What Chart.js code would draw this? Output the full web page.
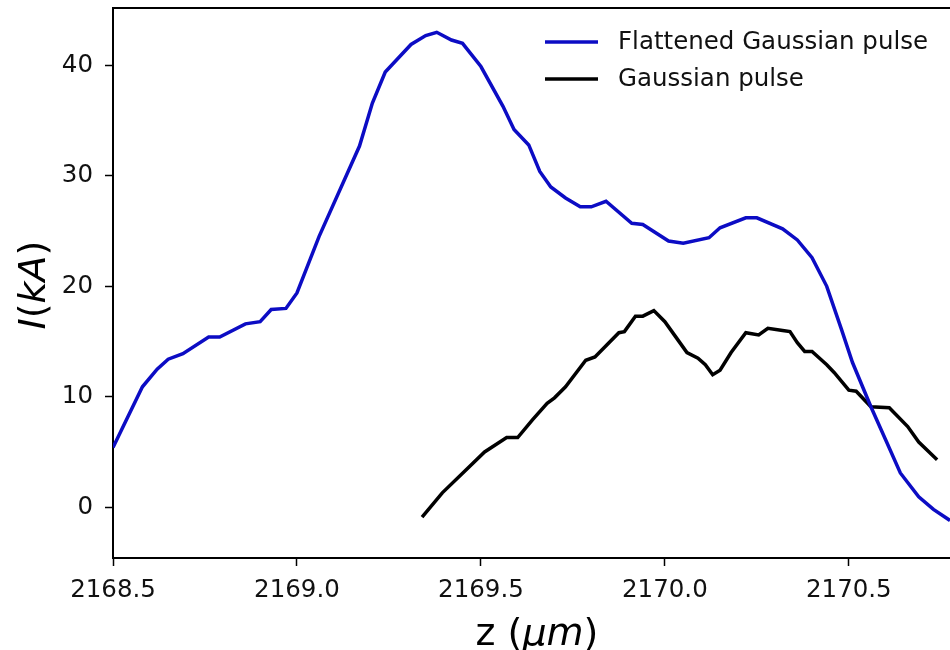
<!DOCTYPE html>
<html>
<head>
<meta charset="utf-8">
<script src="https://cdn.jsdelivr.net/npm/chart.js@4"></script>
<style>
  html, body { margin: 0; padding: 0; background: #fff; overflow: hidden; }
  #wrap { width: 950px; height: 650px; }
</style>
</head>
<body>
<div id="wrap"><canvas id="pulseChart"></canvas></div>
<script>
// positions along the beam, z in um
const blueZ = [2168.50, 2168.58, 2168.62, 2168.65, 2168.69, 2168.76, 2168.79, 2168.86, 2168.90, 2168.93,
  2168.97, 2169.00, 2169.06, 2169.17, 2169.205, 2169.24, 2169.31, 2169.35, 2169.38, 2169.42,
  2169.45, 2169.50, 2169.56, 2169.59, 2169.63, 2169.66, 2169.69, 2169.73, 2169.77, 2169.80,
  2169.84, 2169.91, 2169.94, 2170.01, 2170.05, 2170.12, 2170.15, 2170.22, 2170.25, 2170.32,
  2170.36, 2170.40, 2170.44, 2170.48, 2170.51, 2170.56, 2170.60, 2170.64, 2170.69, 2170.73, 2170.775];
const blueI = [5.4, 10.9, 12.5, 13.4, 13.9, 15.4, 15.4, 16.6, 16.8, 17.9,
  18.0, 19.4, 24.5, 32.7, 36.6, 39.4, 41.9, 42.7, 43.0, 42.3,
  42.0, 39.9, 36.3, 34.2, 32.8, 30.4, 29.0, 28.0, 27.2, 27.2,
  27.7, 25.7, 25.6, 24.1, 23.9, 24.4, 25.3, 26.2, 26.2, 25.2,
  24.2, 22.6, 20.0, 16.1, 13.1, 9.1, 6.1, 3.1, 0.95, -0.2, -1.2];

const blackZ = [2169.34, 2169.395, 2169.46, 2169.51, 2169.57, 2169.60, 2169.64, 2169.68, 2169.70, 2169.73,
  2169.785, 2169.81, 2169.875, 2169.89, 2169.92, 2169.94, 2169.97, 2170.00, 2170.03, 2170.06,
  2170.09, 2170.11, 2170.13, 2170.15, 2170.18, 2170.22, 2170.255, 2170.28, 2170.32, 2170.34,
  2170.36, 2170.38, 2170.40, 2170.44, 2170.46, 2170.50, 2170.52, 2170.56, 2170.61, 2170.66,
  2170.69, 2170.74];
const blackI = [-0.9, 1.3, 3.4, 5.0, 6.3, 6.3, 7.9, 9.4, 9.9, 10.9,
  13.3, 13.6, 15.8, 15.9, 17.3, 17.3, 17.8, 16.8, 15.4, 14.0,
  13.5, 12.9, 12.0, 12.4, 14.0, 15.8, 15.6, 16.2, 16.0, 15.9,
  14.9, 14.1, 14.1, 12.9, 12.2, 10.6, 10.5, 9.1, 9.0, 7.3,
  5.9, 4.3];

const xTicks = [2168.5, 2169.0, 2169.5, 2170.0, 2170.5];
const yTicks = [0, 10, 20, 30, 40];

const FONT = "'DejaVu Sans', sans-serif";

function pts(xs, ys) {
    return xs.map((x, i) => ({ x: x, y: ys[i] }));
}

// draws pieces of text one after another, each with its own style
function drawRuns(ctx, runs, x, y) {
    let cx = x;
    runs.forEach(r => {
        ctx.font = r[1] + " 38px " + FONT;
        ctx.fillText(r[0], cx, y);
        cx += ctx.measureText(r[0]).width;
    });
}
function runsWidth(ctx, runs) {
    let w = 0;
    runs.forEach(r => {
        ctx.font = r[1] + " 38px " + FONT;
        w += ctx.measureText(r[0]).width;
    });
    return w;
}

// top spine, legend and the axis titles (math style, mixed italic)
const frameAndLegend = {
    id: 'frameAndLegend',
    afterDraw(chart) {
        const ctx = chart.ctx;
        const a = chart.chartArea;
        ctx.save();
        ctx.strokeStyle = '#000';
        ctx.lineWidth = 2;
        ctx.beginPath();
        ctx.moveTo(a.left - 1, a.top);
        ctx.lineTo(a.right, a.top);
        ctx.stroke();

        ctx.font = "24.5px " + FONT;
        ctx.textBaseline = 'middle';
        ctx.fillStyle = '#111';
        chart.data.datasets.forEach((ds, i) => {
            const y = 42 + i * 37;
            ctx.strokeStyle = ds.borderColor;
            ctx.lineWidth = 3.5;
            ctx.beginPath();
            ctx.moveTo(545, y);
            ctx.lineTo(598, y);
            ctx.stroke();
            ctx.fillText(ds.label, 618, y + 1);
        });

        // x title: z (μm)
        ctx.fillStyle = '#000';
        ctx.textBaseline = 'alphabetic';
        const xRuns = [['z (', 'normal'], ['μm', 'italic'], [')', 'normal']];
        const xw = runsWidth(ctx, xRuns);
        drawRuns(ctx, xRuns, 537 - xw / 2, 645);

        // y title: I(kA), rotated
        const yRuns = [['I', 'italic'], ['(', 'normal'], ['kA', 'italic'], [')', 'normal']];
        const yw = runsWidth(ctx, yRuns);
        ctx.translate(45, 285);
        ctx.rotate(-Math.PI / 2);
        drawRuns(ctx, yRuns, -yw / 2, 0);
        ctx.restore();
    }
};

new Chart(document.getElementById('pulseChart'), {
    type: 'line',
    data: {
        datasets: [
            {
                label: 'Flattened Gaussian pulse',
                data: pts(blueZ, blueI),
                borderColor: '#0c0cc4',
                borderWidth: 3.5,
                pointRadius: 0,
                tension: 0
            },
            {
                label: 'Gaussian pulse',
                data: pts(blackZ, blackI),
                borderColor: '#000000',
                borderWidth: 3.5,
                pointRadius: 0,
                tension: 0
            }
        ]
    },
    options: {
        responsive: true,
        maintainAspectRatio: false,
        animation: false,
        layout: { padding: { top: 8, right: 0, bottom: 0, left: 0 } },
        plugins: {
            legend: { display: false },
            tooltip: { enabled: false }
        },
        scales: {
            x: {
                type: 'linear',
                min: 2168.5,
                max: 2170.775,
                afterBuildTicks: (s) => { s.ticks = xTicks.map(v => ({ value: v })); },
                afterFit: (s) => { s.height = 92; s.paddingLeft = 0; s.paddingRight = 0; },
                border: { display: true, color: '#000', width: 2 },
                grid: { display: true, drawOnChartArea: false, drawTicks: true, tickLength: 8, tickWidth: 1.5, tickColor: '#000' },
                ticks: {
                    padding: 10,
                    color: '#111',
                    maxRotation: 0,
                    font: { family: FONT, size: 24.5 },
                    callback: (v) => Number(v).toFixed(1)
                },
                title: { display: false }
            },
            y: {
                type: 'linear',
                min: -4.6,
                max: 45.2,
                afterBuildTicks: (s) => { s.ticks = yTicks.map(v => ({ value: v })); },
                afterFit: (s) => { s.width = 113; s.paddingTop = 0; s.paddingBottom = 0; },
                border: { display: true, color: '#000', width: 2 },
                grid: { display: true, drawOnChartArea: false, drawTicks: true, tickLength: 8, tickWidth: 1.5, tickColor: '#000' },
                ticks: {
                    padding: 12,
                    color: '#111',
                    font: { family: FONT, size: 24.5 },
                    callback: (v) => String(v)
                },
                title: { display: false }
            }
        }
    },
    plugins: [frameAndLegend]
});
</script>
</body>
</html>
